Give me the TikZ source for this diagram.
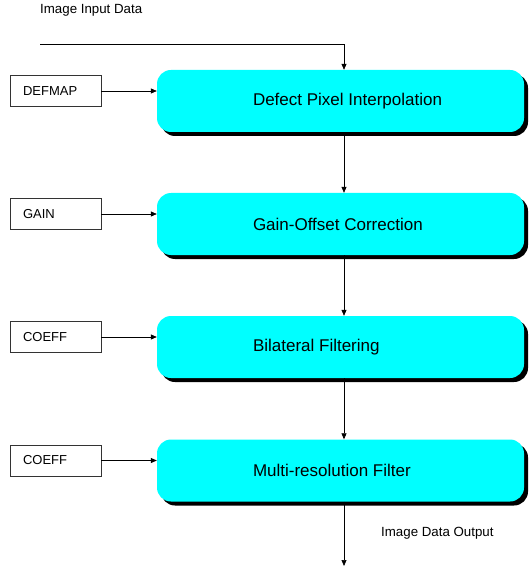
\documentclass[tikz,border=0pt]{standalone}
\usepackage{fontspec}
\setmainfont{Liberation Sans}
\usepackage{tikz}
\usetikzlibrary{positioning,arrows.meta,shadows}
\definecolor{cStage}{HTML}{00FFFF}
\definecolor{cLine}{HTML}{000000}
\tikzset{
  flow/stage/.style={fill=cStage, draw=none, rounded corners=14pt,
                     minimum width=367pt, minimum height=62pt,
                     inner xsep=96pt, inner ysep=0pt, anchor=center,
                     font=\fontsize{17}{20}\selectfont,
                     drop shadow={shadow xshift=4pt, shadow yshift=-4pt,
                                  fill=black, opacity=1}},
  flow/param/.style={draw=cLine!80, line width=0.6pt, fill=white,
                     minimum height=31pt, text width=65pt, align=left,
                     inner xsep=13pt, inner ysep=0pt,
                     font=\fontsize{13}{15}\selectfont},
  flow/note/.style ={font=\fontsize{13.3}{15}\selectfont, inner sep=0pt, anchor=west},
  flow/arr/.style  ={-{Triangle[length=6pt, width=5pt]}, line width=0.7pt, cLine}
}
\newcommand{\stagetext}[1]{\makebox[175pt][l]{#1}}

\begin{document}
\begin{tikzpicture}[x=1pt, y=-1pt]
    \useasboundingbox (0,0) rectangle (531,569);
    % processing stages with their parameter tables
    \foreach \i/\yc/\nm/\pm in {1/101/Defect Pixel Interpolation/DEFMAP,
                                2/224/Gain-Offset Correction/GAIN,
                                3/347/Bilateral Filtering/COEFF,
                                4/470.5/Multi-resolution Filter/COEFF} {
      \node[flow/stage] (s\i) at (340.5, \yc) {\stagetext{\nm}};
      \node[flow/param] (p\i) at (55.5, \yc - 10) {\pm};
      \draw[flow/arr] (p\i.east) -- (p\i.east -| s\i.west);
    }
    % main data path
    \coordinate (in)   at (40, 44);
    \coordinate (bend) at (344, 44);
    \coordinate (out)  at (344, 566);
    \draw[flow/arr] (in) -- (bend) -- (bend |- s1.north);
    \foreach \i/\j in {1/2, 2/3, 3/4} {
      \draw[flow/arr] (bend |- s\i.south) -- (bend |- s\j.north);
    }
    \draw[flow/arr] (bend |- s4.south) -- (out);
    % input and output labels
    \node[flow/note] (inlabel)  at (40, 10)  {Image Input Data};
    \node[flow/note] (outlabel) at (381, 533) {Image Data Output};
  \end{tikzpicture}
\end{document}
